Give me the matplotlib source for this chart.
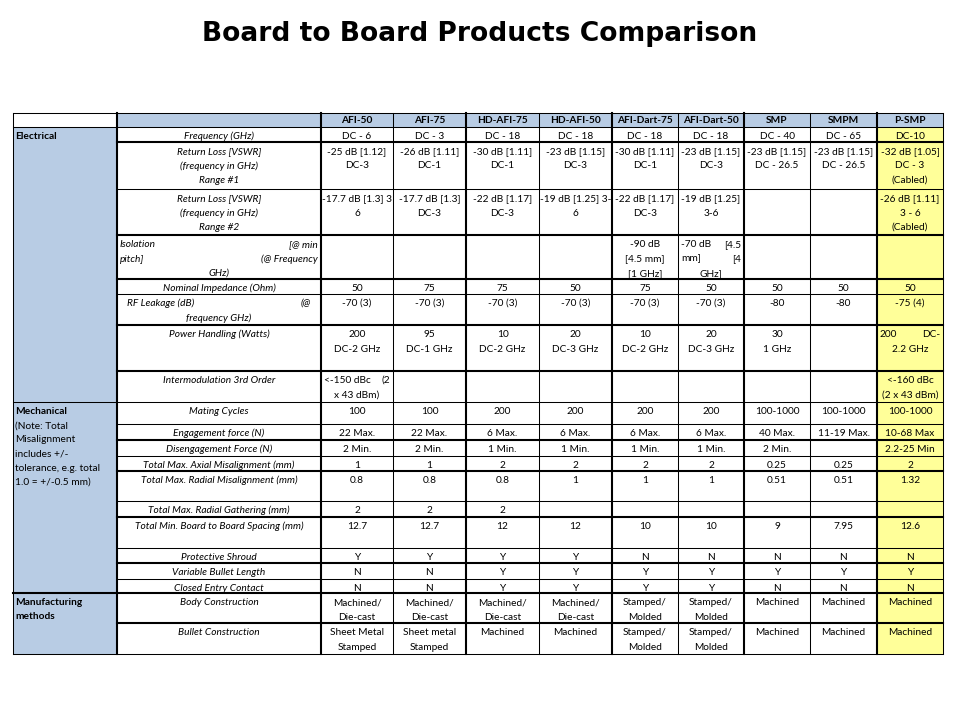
import matplotlib
matplotlib.use("Agg")
import matplotlib.pyplot as plt
from matplotlib.patches import Rectangle
from matplotlib.transforms import Bbox, TransformedBbox

TITLE = "Board to Board Products Comparison"

products = ["AFI-50", "AFI-75", "HD-AFI-75", "HD-AFI-50", "AFI-Dart-75",
            "AFI-Dart-50", "SMP", "SMPM", "P-SMP"]

categories = ["Electrical",
              "Mechanical\n(Note: Total\nMisalignment\nincludes +/-\ntolerance, e.g. total\n1.0 = +/-0.5 mm)",
              "Manufacturing\nmethods"]
category_rows = [8, 10, 2]   # number of parameter rows in each category

parameters = [
    "Frequency (GHz)",
    "Return Loss [VSWR]\n(frequency in GHz)\nRange #1",
    "Return Loss [VSWR]\n(frequency in GHz)\nRange #2",
    "Isolation\t[@ min\npitch]\t(@ Frequency\nGHz)",
    "Nominal Impedance (Ohm)",
    "RF Leakage (dB)\t(@\nfrequency GHz)",
    "Power Handling (Watts)",
    "Intermodulation 3rd Order",
    "Mating Cycles",
    "Engagement force (N)",
    "Disengagement Force (N)",
    "Total Max. Axial Misalignment (mm)",
    "Total Max. Radial Misalignment (mm)",
    "Total Max. Radial Gathering (mm)",
    "Total Min. Board to Board Spacing (mm)",
    "Protective Shroud",
    "Variable Bullet Length",
    "Closed Entry Contact",
    "Body Construction",
    "Bullet Construction",
]

frequency = ["DC - 6", "DC - 3", "DC - 18", "DC - 18", "DC - 18", "DC - 18", "DC - 40", "DC - 65", "DC-10"]
return_loss_1 = ["-25 dB [1.12]\nDC-3", "-26 dB [1.11]\nDC-1", "-30 dB [1.11]\nDC-1", "-23 dB [1.15]\nDC-3",
                 "-30 dB [1.11]\nDC-1", "-23 dB [1.15]\nDC-3", "-23 dB [1.15]\nDC - 26.5",
                 "-23 dB [1.15]\nDC - 26.5", "-32 dB [1.05]\nDC - 3\n(Cabled)"]
return_loss_2 = ["\t-17.7 dB [1.3] 3 -\n6", "-17.7 dB [1.3]\nDC-3", "-22 dB [1.17]\nDC-3", "\t-19 dB [1.25] 3-\n6",
                 "-22 dB [1.17]\nDC-3", "-19 dB [1.25]\n3-6", "", "", "-26 dB [1.11]\n3 - 6\n(Cabled)"]
isolation = ["", "", "", "", "-90 dB\n[4.5 mm]\n[1 GHz]", "-70 dB\t[4.5\nmm]\t[4\nGHz]", "", "", ""]
impedance = ["50", "75", "75", "50", "75", "50", "50", "50", "50"]
rf_leakage = ["-70 (3)", "-70 (3)", "-70 (3)", "-70 (3)", "-70 (3)", "-70 (3)", "-80", "-80", "-75 (4)"]
power = ["200\nDC-2 GHz", "95\nDC-1 GHz", "10\nDC-2 GHz", "20\nDC-3 GHz", "10\nDC-2 GHz",
         "20\nDC-3 GHz", "30\n1 GHz", "", "200\tDC-\n2.2 GHz"]
intermod = ["<-150 dBc\t(2\nx 43 dBm)", "", "", "", "", "", "", "", "<-160 dBc\n(2 x 43 dBm)"]
mating = ["100", "100", "200", "200", "200", "200", "100-1000", "100-1000", "100-1000"]
engagement = ["22 Max.", "22 Max.", "6 Max.", "6 Max.", "6 Max.", "6 Max.", "40 Max.", "11-19 Max.", "10-68 Max"]
disengagement = ["2 Min.", "2 Min.", "1 Min.", "1 Min.", "1 Min.", "1 Min.", "2 Min.", "", "2.2-25 Min"]
axial = ["1", "1", "2", "2", "2", "2", "0.25", "0.25", "2"]
radial = ["0.8", "0.8", "0.8", "1", "1", "1", "0.51", "0.51", "1.32"]
gathering = ["2", "2", "2", "", "", "", "", "", ""]
spacing = ["12.7", "12.7", "12", "12", "10", "10", "9", "7.95", "12.6"]
shroud = ["Y", "Y", "Y", "Y", "N", "N", "N", "N", "N"]
variable_bullet = ["N", "N", "Y", "Y", "Y", "Y", "Y", "Y", "Y"]
closed_entry = ["N", "N", "Y", "Y", "Y", "Y", "N", "N", "N"]
body = ["Machined/\nDie-cast", "Machined/\nDie-cast", "Machined/\nDie-cast", "Machined/\nDie-cast",
        "Stamped/\nMolded", "Stamped/\nMolded", "Machined", "Machined", "Machined"]
bullet = ["Sheet Metal\nStamped", "Sheet metal\nStamped", "Machined", "Machined",
          "Stamped/\nMolded", "Stamped/\nMolded", "Machined", "Machined", "Machined"]

values = [frequency, return_loss_1, return_loss_2, isolation, impedance, rf_leakage, power,
          intermod, mating, engagement, disengagement, axial, radial, gathering, spacing,
          shroud, variable_bullet, closed_entry, body, bullet]

# ---------------- layout (pixels) ----------------
col_edges = [13, 117, 321, 393, 466, 539, 612, 678, 744, 810, 877, 943]
col_thick = [0, 1, 1, 0, 1, 0, 1, 0, 1, 0, 1, 0]
row_edges = [113, 127, 142, 189, 235, 279, 294, 325, 371, 402, 424, 440, 456, 471,
             501, 517, 548, 563, 579, 593, 623, 654]
row_thick = [0, 0, 1, 0, 1, 1, 0, 1, 1, 0, 0, 1, 0, 1, 0, 1, 0, 1, 0, 1, 1, 0]
param_pad = {5: 10}

BLUE = "#B8CCE4"
YELLOW = "#FFFF99"
FONT = "Lato"
FS = 7.3
LINE_H = 14.5
FIRST = 9.5
THIN, THICK = 0.75, 1.5

fig = plt.figure(figsize=(9.6, 7.2), dpi=100)
ax = fig.add_axes([0, 0, 1, 1])
ax.set_xlim(0, 960)
ax.set_ylim(720, 0)
ax.axis("off")

ax.text(480, 34, TITLE, ha="center", va="center", fontsize=19.1,
        fontweight="bold", family="DejaVu Sans")

top, bottom = row_edges[0], row_edges[-1]
left, right = col_edges[0], col_edges[-1]

# fills
ax.add_patch(Rectangle((col_edges[1], row_edges[0]), right - col_edges[1], row_edges[1] - row_edges[0],
                       facecolor=BLUE, edgecolor="none"))
ax.add_patch(Rectangle((col_edges[0], row_edges[1]), col_edges[1] - col_edges[0], bottom - row_edges[1],
                       facecolor=BLUE, edgecolor="none"))
ax.add_patch(Rectangle((col_edges[-2], row_edges[1]), col_edges[-1] - col_edges[-2], bottom - row_edges[1],
                       facecolor=YELLOW, edgecolor="none"))


def draw_lines(x0, x1, ytop, text, pad=3, **kw):
    clip = TransformedBbox(Bbox.from_extents(x0, ytop, x1, ytop + 60), ax.transData)
    for i, line in enumerate(text.split("\n")):
        y = ytop + FIRST + i * LINE_H
        if "\t" in line:
            l, r = line.split("\t")
            if l:
                ax.text(x0 + pad, y, l, ha="left", va="center", family=FONT, fontsize=FS, **kw)
                ax.text(x1 - pad, y, r, ha="right", va="center", family=FONT, fontsize=FS, **kw)
            else:
                t = ax.text(x0 + 1, y, r, ha="left", va="center", family=FONT, fontsize=FS,
                            clip_on=True, **kw)
                t.set_clip_box(clip)
                t.set_clip_path(None)
        else:
            t = ax.text((x0 + x1) / 2, y, line, ha="center", va="center", family=FONT, fontsize=FS,
                        clip_on=True, **kw)
            t.set_clip_box(clip)
            t.set_clip_path(None)


# header
for j, p in enumerate(products):
    x0, x1 = col_edges[j + 2], col_edges[j + 3]
    ax.text((x0 + x1) / 2, (row_edges[0] + row_edges[1]) / 2 + 0.5, p, ha="center", va="center",
            family=FONT, fontsize=FS, fontweight="bold")

# body rows
for i, (param, vals) in enumerate(zip(parameters, values)):
    ytop = row_edges[i + 1]
    draw_lines(col_edges[1], col_edges[2], ytop, param, pad=param_pad.get(i, 3), style="italic")
    for j, v in enumerate(vals):
        if v:
            draw_lines(col_edges[j + 2], col_edges[j + 3], ytop, v)

# categories
r = 1
cat_bounds = [row_edges[1]]
for c, n in zip(categories, category_rows):
    ytop = row_edges[r]
    for k, line in enumerate(c.split("\n")):
        bold = (k == 0) or c.startswith("Manufacturing")
        ax.text(left + 2, ytop + FIRST + k * 14.2, line, ha="left", va="center", family=FONT,
                fontsize=FS, fontweight="bold" if bold else "normal")
    r += n
    cat_bounds.append(row_edges[r])

# horizontal lines
for k, y in enumerate(row_edges):
    lw = THICK if row_thick[k] else THIN
    if y in cat_bounds or k == 0:
        ax.plot([left, right], [y, y], color="black", lw=lw, solid_capstyle="projecting")
    else:
        ax.plot([col_edges[1], right], [y, y], color="black", lw=lw, solid_capstyle="projecting")

# vertical lines
for k, x in enumerate(col_edges):
    lw = THICK if col_thick[k] else THIN
    ax.plot([x, x], [top, bottom], color="black", lw=lw, solid_capstyle="projecting")

fig.savefig("out.png", dpi=100)
